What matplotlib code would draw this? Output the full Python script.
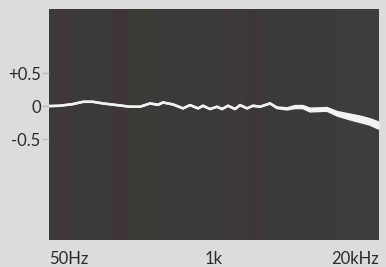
import matplotlib.pyplot as plt
from matplotlib.ticker import FixedLocator, NullLocator

# frequency points (Hz)
freq = [50, 61, 77, 93, 111, 133, 172, 218, 261, 313, 362, 396, 475, 570,
        647, 748, 819, 930, 1056, 1157, 1290, 1464, 1603, 1820, 2030, 2305,
        2617, 2764, 3138, 3764, 4352, 5032, 5714, 7781, 9330, 11815, 14170,
        16990, 19300, 20000]

# upper edge of the trace (dB)
left_ch = [0.0, 0.005, 0.03, 0.065, 0.065, 0.04, 0.015, -0.01, -0.01, 0.04,
           0.02, 0.055, 0.025, -0.035, 0.015, -0.035, 0.005, -0.045, -0.01,
           -0.045, 0.005, -0.045, 0.015, -0.035, 0.005, -0.01, 0.025, 0.04,
           -0.02, -0.035, 0.0, 0.0, -0.04, -0.03, -0.09, -0.13, -0.16,
           -0.2, -0.24, -0.25]

# lower edge of the trace (dB)
right_ch = [0.0, 0.005, 0.03, 0.065, 0.065, 0.04, 0.015, -0.01, -0.01, 0.04,
            0.02, 0.055, 0.025, -0.035, 0.015, -0.035, 0.005, -0.045, -0.01,
            -0.045, 0.005, -0.045, 0.015, -0.035, 0.005, -0.01, 0.025, 0.04,
            -0.03, -0.05, -0.03, -0.03, -0.08, -0.07, -0.14, -0.2, -0.24,
            -0.28, -0.33, -0.34]

ytick_vals = [0.5, 0, -0.5]
ytick_labels = ["+0.5", "0", "-0.5"]
xtick_vals = [50, 1000, 20000]
xtick_labels = ["50Hz", "1k", "20kHz"]

plt.rcParams['font.family'] = ['Lato', 'DejaVu Sans']

fig = plt.figure(figsize=(3.86, 2.67), dpi=100)
fig.patch.set_facecolor("#dcdcdc")
ax = fig.add_axes([0.127, 0.101, 0.855, 0.865])
ax.set_facecolor("#3a3a3a")

# faint colour banding of the scanned panel
bands = [(58, 80, "#3f3739"), (150, 215, "#3e3638"), (230, 330, "#3d3b36"),
         (1200, 1500, "#3f3739"), (1700, 2400, "#3e3739"), (9000, 20000, "#3d3d3d")]
for lo, hi, c in bands:
    ax.axvspan(lo, hi, color=c, lw=0, zorder=0)

ax.fill_between(freq, right_ch, left_ch, color="#f2f2f2", lw=0)
ax.plot(freq, right_ch, color="#f2f2f2", lw=1.8, solid_capstyle="round")
ax.plot(freq, left_ch, color="#f2f2f2", lw=1.8, solid_capstyle="round")

ax.set_xscale("log")
ax.set_xlim(50, 20000)
ax.set_ylim(-2.03, 1.47)

ax.xaxis.set_major_locator(FixedLocator(xtick_vals))
ax.xaxis.set_minor_locator(NullLocator())
ax.set_xticklabels(xtick_labels, fontsize=12, color="#2a2a2a")
for lbl, ha in zip(ax.get_xticklabels(), ["left", "center", "right"]):
    lbl.set_horizontalalignment(ha)
ax.tick_params(axis="x", length=0, pad=8)

ax.set_yticks(ytick_vals)
ax.set_yticklabels(ytick_labels, fontsize=12, color="#2a2a2a")
ax.tick_params(axis="y", length=5, width=1, color="#bbbbbb", pad=1)

for s in ax.spines.values():
    s.set_visible(False)

plt.savefig("out.png", dpi=100, facecolor=fig.get_facecolor())
